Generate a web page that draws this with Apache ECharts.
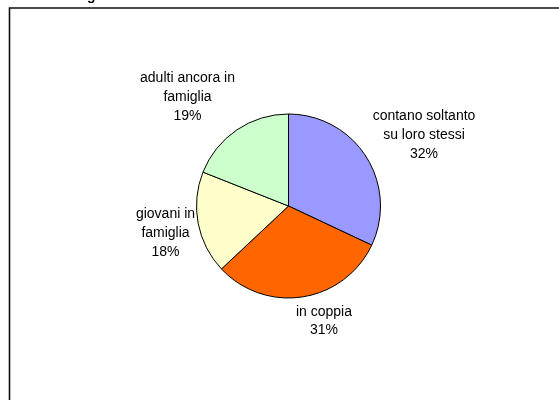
<!DOCTYPE html>
<html>
<head>
<meta charset="utf-8">
<script src="https://cdn.jsdelivr.net/npm/echarts@6/dist/echarts.min.js"></script>
<style>html,body{margin:0;padding:0;background:#fff}#c{width:559px;height:400px}</style>
</head>
<body>
<div id="c"></div>
<script>
var categories = ['contano soltanto\nsu loro stessi', 'in coppia', 'giovani in\nfamiglia', 'adulti ancora in\nfamiglia'];
var values = [32, 31, 18, 19];
var colors = ['#9999FF', '#FF6600', '#FFFFCC', '#CCFFCC'];

var labelPos = [[424, 135], [324, 321], [165.5, 233], [187.5, 97]];

var chart = echarts.init(document.getElementById('c'), null, {renderer: 'canvas'});
chart.setOption({
  animation: false,
  backgroundColor: '#fff',
  graphic: [
    {type: 'rect', shape: {x: 9.5, y: 8, width: 600, height: 420},
     style: {fill: 'none', stroke: '#111', lineWidth: 1.6}, z: 10},
    {type: 'text', left: 87, top: -11,
     style: {text: 'g', font: 'bold 14px "Liberation Sans", Arial', fill: '#000'}}
  ],
  series: [{
    type: 'pie',
    center: [288.5, 206],
    radius: 92,
    startAngle: 90,
    clockwise: true,
    silent: true,
    data: categories.map(function (c, i) {
      return {name: c, value: values[i], itemStyle: {color: colors[i]}};
    }),
    itemStyle: {borderColor: '#000', borderWidth: 1},
    label: {
      show: true,
      position: 'outside',
      formatter: function (p) { return p.name + '\n' + Math.round(p.percent) + '%'; },
      fontFamily: '"Liberation Sans", Arial, sans-serif',
      fontSize: 14,
      lineHeight: 18.7,
      color: '#000',
      align: 'center'
    },
    labelLine: {show: false},
    labelLayout: function (p) {
      var pos = labelPos[p.dataIndex];
      return {x: pos[0], y: pos[1], align: 'center', verticalAlign: 'middle'};
    }
  }]
});
</script>
</body>
</html>
